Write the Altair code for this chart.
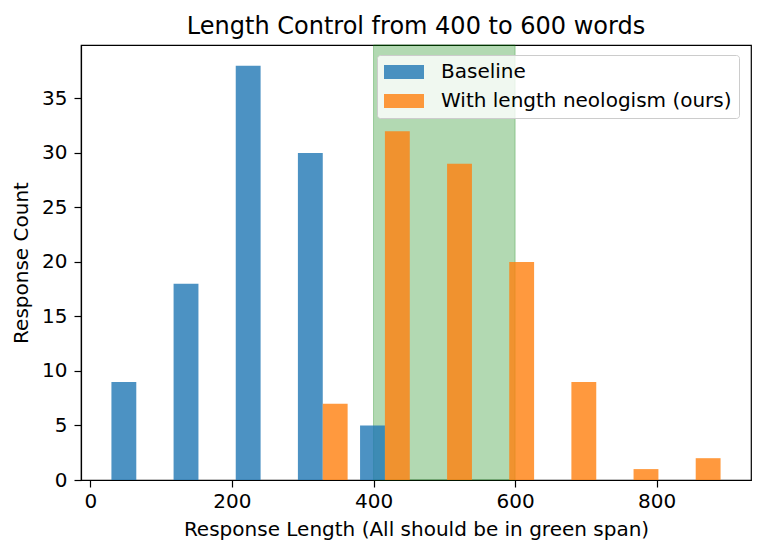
import altair as alt
import pandas as pd

# Histogram bin edges (10 bins)
bin_edges = [21.0, 108.8, 196.6, 284.4, 372.2, 460.0, 547.8, 635.6, 723.4, 811.2, 899.0]
baseline_counts = [9, 18, 38, 30, 5, 0, 0, 0, 0, 0]
ours_counts = [0, 0, 0, 7, 32, 29, 20, 9, 1, 2]
series_names = ["Baseline", "With length neologism (ours)"]
series_colors = ["#1f77b4", "#ff7f0e"]
span_start = [400]
span_end = [600]
x_ticks = [0, 200, 400, 600, 800]
y_ticks = [0, 5, 10, 15, 20, 25, 30, 35]

rows = []
for i in range(len(bin_edges) - 1):
    lo, hi = bin_edges[i], bin_edges[i + 1]
    w = hi - lo
    rows.append({"series": series_names[0], "lo": lo + 0.1 * w, "hi": lo + 0.5 * w,
                 "count": baseline_counts[i]})
    rows.append({"series": series_names[1], "lo": lo + 0.5 * w, "hi": lo + 0.9 * w,
                 "count": ours_counts[i]})
bars_df = pd.DataFrame(rows)
bars_df = bars_df[bars_df["count"] > 0]
span_df = pd.DataFrame({"s": span_start, "e": span_end})

FONT = "DejaVu Sans"
xscale = alt.Scale(domain=[-13.2, 933.2], nice=False, zero=False)
yscale = alt.Scale(domain=[0, 39.9], nice=False)

span = alt.Chart(span_df).mark_rect(
    fill="green", fillOpacity=0.3, stroke="green", strokeOpacity=0.3, strokeWidth=1
).encode(
    x=alt.X("s:Q", scale=xscale),
    x2="e:Q",
)

bars = alt.Chart(bars_df).mark_rect(opacity=0.8).encode(
    x=alt.X("lo:Q", scale=xscale,
            axis=alt.Axis(values=x_ticks, title="Response Length (All should be in green span)",
                          labelPadding=4, titlePadding=8)),
    x2="hi:Q",
    y=alt.Y("count:Q", scale=yscale,
            axis=alt.Axis(values=y_ticks, title="Response Count",
                          labelPadding=7, titlePadding=10)),
    y2=alt.datum(0),
    color=alt.Color("series:N",
                    scale=alt.Scale(domain=series_names, range=series_colors),
                    legend=alt.Legend(
                        title=None, orient="none", legendX=296, legendY=10,
                        symbolType="M-1,-0.7L3,-0.7L3,0.7L-1,0.7Z",
                        symbolSize=400, symbolOpacity=0.8, symbolStrokeWidth=0,
                        labelOffset=37, labelFontSize=20, labelFont=FONT, labelColor="black",
                        labelLimit=1000,
                        rowPadding=9, padding=7,
                        fillColor="rgba(255,255,255,0.8)", strokeColor="#cccccc",
                        cornerRadius=3,
                    )),
)

chart = alt.layer(span, bars).properties(
    width=670, height=435,
    title=alt.TitleParams("Length Control from 400 to 600 words", fontSize=24,
                          font=FONT, fontWeight="normal", color="black", offset=6),
    autosize=alt.AutoSizeParams(type="none"),
    padding={"left": 73, "top": 37, "right": 5, "bottom": 66},
).configure_view(
    stroke="black", strokeWidth=1.2
).configure_axis(
    grid=False, domainColor="black", domainWidth=1.2, tickColor="black", tickWidth=1.2,
    tickSize=7, labelFont=FONT, labelFontSize=20, labelColor="black",
    titleFont=FONT, titleFontSize=20, titleFontWeight="normal", titleColor="black",
)

chart.save("out.html", embed_options={"renderer": "svg", "actions": False})
